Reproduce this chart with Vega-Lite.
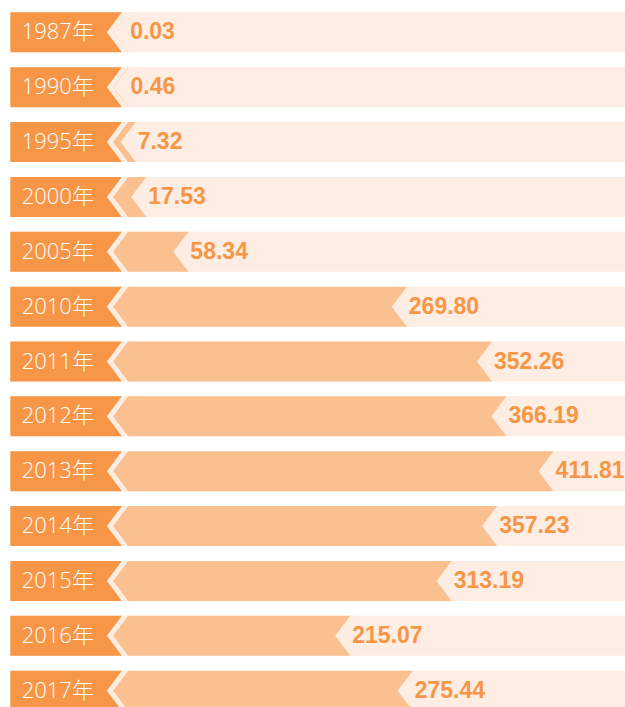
{
  "$schema": "https://vega.github.io/schema/vega-lite/v6.json",
  "width": 625,
  "height": 723,
  "padding": 0,
  "autosize": {"type": "none"},
  "background": "#ffffff",
  "config": {"view": {"stroke": null}, "aria": false},
  "data": {"values": [
    {"year": "1987年", "value": 0.03},
    {"year": "1990年", "value": 0.46},
    {"year": "1995年", "value": 7.32},
    {"year": "2000年", "value": 17.53},
    {"year": "2005年", "value": 58.34},
    {"year": "2010年", "value": 269.80},
    {"year": "2011年", "value": 352.26},
    {"year": "2012年", "value": 366.19},
    {"year": "2013年", "value": 411.81},
    {"year": "2014年", "value": 357.23},
    {"year": "2015年", "value": 313.19},
    {"year": "2016年", "value": 215.07},
    {"year": "2017年", "value": 275.44}
  ]},
  "layer": [
    {
      "mark": {"type": "rect", "color": "#FDEDE2"},
      "encoding": {
        "y": {"field": "year", "type": "ordinal", "sort": null, "axis": null,
              "scale": {"paddingInner": 0.271, "paddingOuter": 0.224}},
        "x": {"datum": -114, "type": "quantitative", "axis": null,
              "scale": {"domain": [-124, 481], "nice": false, "zero": false}},
        "x2": {"datum": 481}
      }
    },
    {
      "mark": {"type": "rect", "color": "#F79646"},
      "encoding": {
        "y": {"field": "year", "type": "ordinal", "sort": null, "axis": null},
        "x": {"datum": -114, "type": "quantitative", "axis": null},
        "x2": {"datum": -6}
      }
    },
    {
      "mark": {"type": "point", "shape": "M -0.75 0 L 0 -1 L 0.3 -1 L 0.3 1 L 0 1 Z", "size": 1600,
               "filled": true, "opacity": 1, "color": "#FDEDE2", "strokeWidth": 0},
      "encoding": {
        "y": {"field": "year", "type": "ordinal", "sort": null, "axis": null},
        "x": {"datum": -6, "type": "quantitative", "axis": null}
      }
    },
    {
      "mark": {"type": "rect", "color": "#FAC090"},
      "encoding": {
        "y": {"field": "year", "type": "ordinal", "sort": null, "axis": null},
        "x": {"field": "value", "type": "quantitative", "axis": null},
        "x2": {"datum": 0}
      }
    },
    {
      "mark": {"type": "point", "shape": "M -0.75 0 L 0 -1 L 0.05 -1 L 0.05 1 L 0 1 Z", "size": 1600,
               "filled": true, "opacity": 1, "color": "#FAC090", "strokeWidth": 0},
      "encoding": {
        "y": {"field": "year", "type": "ordinal", "sort": null, "axis": null},
        "x": {"datum": 0, "type": "quantitative", "axis": null}
      }
    },
    {
      "mark": {"type": "point", "shape": "M -0.75 0 L 0 -1 L 0.4 -1 L 0.4 1 L 0 1 Z", "size": 1600,
               "filled": true, "opacity": 1, "color": "#FDEDE2", "strokeWidth": 0},
      "encoding": {
        "y": {"field": "year", "type": "ordinal", "sort": null, "axis": null},
        "x": {"field": "value", "type": "quantitative", "axis": null}
      }
    },
    {
      "mark": {"type": "text", "align": "left", "baseline": "middle", "dx": 2,
               "font": "Liberation Sans, Noto Sans CJK SC", "fontWeight": "bold",
               "fontSize": 23, "color": "#F79646"},
      "encoding": {
        "y": {"field": "year", "type": "ordinal", "sort": null, "axis": null},
        "x": {"field": "value", "type": "quantitative", "axis": null},
        "text": {"field": "value", "type": "quantitative", "format": ".2f"}
      }
    },
    {
      "mark": {"type": "text", "align": "left", "baseline": "middle",
               "font": "Open Sans, Noto Sans CJK SC", "fontWeight": 300,
               "fontSize": 22, "color": "#ffffff"},
      "encoding": {
        "y": {"field": "year", "type": "ordinal", "sort": null, "axis": null},
        "x": {"datum": -103, "type": "quantitative", "axis": null},
        "text": {"field": "year", "type": "nominal"}
      }
    }
  ]
}
